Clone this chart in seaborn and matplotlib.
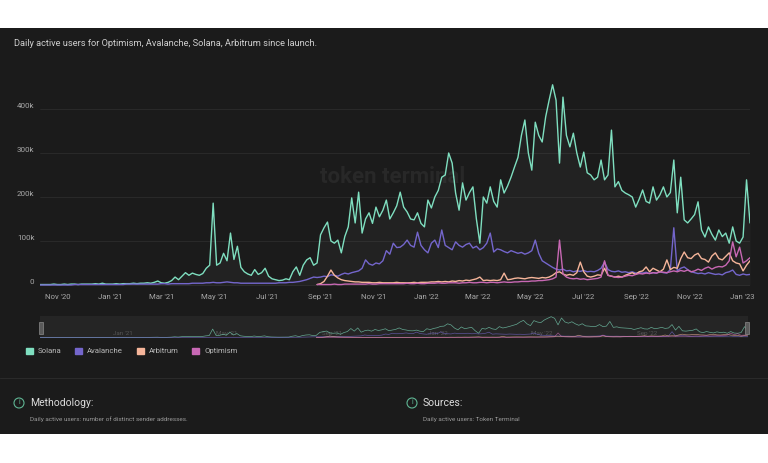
import pandas as pd
import matplotlib
matplotlib.use("Agg")
import matplotlib.pyplot as plt
import matplotlib.dates as mdates
from matplotlib.patches import Rectangle, Ellipse, Patch
from matplotlib.lines import Line2D
from matplotlib.ticker import FuncFormatter
import seaborn as sns


# DATA - daily active users in thousands, one reading every 4 days
step = "4D"

solana_start = "2020-10-12"
solana_k = [1, 1, 1, 1, 2, 1, 1, 2, 1, 2, 2, 1, 2, 2, 2, 2, 3, 2,
            4, 2, 2, 2, 3, 2, 3, 3, 3, 4, 3, 4,
            4, 5, 4, 6, 9, 5, 4, 6, 10, 18, 12, 20, 28, 22, 27, 24, 22, 26, 38, 45,
            186, 45, 50, 72, 55, 118, 58, 88, 40, 30, 25, 22, 35, 24, 28, 38, 20, 14, 12, 10,
            11, 14, 12, 30, 41, 22, 45, 57, 62, 45, 50, 114, 130, 143, 100, 95, 102, 73, 110, 132,
            198, 141, 211, 118, 150, 164, 140, 177, 155, 170, 193, 150, 164, 180, 211, 177, 166, 150, 148, 164,
            140, 132, 193, 175, 200, 215, 245, 250, 300, 277, 209, 170, 232, 193, 210, 223, 150, 95, 200, 186,
            223, 190, 177, 239, 209, 225, 245, 268, 290, 340, 375, 300, 261, 370, 340, 325, 382, 420, 455, 420,
            277, 427, 340, 314, 345, 300, 268, 302, 255, 250, 239, 245, 284, 239, 250, 352, 223, 235, 215, 209,
            205, 200, 177, 195, 216, 190, 186, 223, 193, 205, 223, 200, 210, 284, 164, 245, 148, 141, 150, 160,
            189, 125, 109, 132, 115, 102, 125, 110, 118, 95, 132, 100, 95, 109, 239, 141]

avalanche_start = "2020-10-12"
avalanche_k = [0, 0, 0, 0, 0, 0, 0, 0, 0, 0, 1, 1, 1, 1, 1, 1, 1, 1,
               1, 1, 1, 1, 1, 1, 1, 2, 2, 2, 2, 2, 2, 2, 2, 2, 2, 3, 3, 2, 3, 3, 3,
               3, 3, 3, 4, 4, 4, 4, 5, 5, 6, 5, 5, 6, 7, 6, 5, 5, 4, 4, 4, 4, 4, 4, 4, 4, 4,
               4, 4, 5, 5, 5, 6, 6, 7, 8,
               10, 12, 15, 18, 17, 18, 20, 19, 23, 22, 20, 24, 27, 25, 28, 30, 32, 38, 57, 48,
               45, 50, 48, 55, 78, 70, 95, 85, 86, 92, 102, 90, 86, 120, 90, 80, 73, 95, 102, 85,
               125, 90, 85, 80, 98, 90, 86, 92, 95, 84, 88, 80, 85, 95, 118, 75, 82, 80, 76, 73,
               78, 75, 72, 74, 70, 73, 78, 102, 72, 55, 50, 45, 40, 36, 34, 36, 32, 33, 30, 32,
               31, 33, 30, 31, 30, 33, 38, 52, 35, 31, 30, 32, 29, 30, 28, 30, 27, 28, 27, 29,
               26, 28, 27, 30, 28, 27, 35, 130, 32, 38, 41, 35, 30, 28, 26, 27, 25, 28, 26, 24,
               25, 23, 28, 30, 34, 24, 22, 25, 23, 24]

arbitrum_start = "2021-08-28"
arbitrum_k = [1, 3, 8, 20, 34, 22, 16, 12, 10, 9, 8, 7, 7,
              6, 6, 6, 5, 5, 6, 5, 5, 5, 5, 6, 5, 5, 5, 5, 6, 5, 6,
              6, 6, 7, 7, 8, 7, 8, 7, 9, 8, 10, 9, 11, 10, 12, 14, 18, 10, 11, 10,
              11, 10, 12, 27, 12, 13, 15, 16, 15, 14, 16, 17, 16, 15, 17, 16, 18, 22, 28, 30,
              25, 22, 24, 22, 28, 52, 30, 20, 18, 20, 23, 22, 38, 22, 20, 18, 20, 18, 22, 25,
              28, 24, 30, 32, 41, 30, 38, 34, 30, 36, 57, 35, 40, 38, 60, 75, 62, 60, 68, 72,
              60, 58, 52, 66, 73, 60, 57, 65, 73, 55, 50, 48, 32, 45, 55]

optimism_start = "2021-08-28"
optimism_k = [1, 1, 1, 1, 1, 2, 1, 1, 2, 2, 2, 2, 2, 2, 2, 3, 2, 2, 3, 3, 3, 3, 3, 3, 3, 3, 4, 3, 3, 4, 3,
              3, 4, 4, 4, 5, 4, 4, 5, 5, 5, 4, 5, 5, 6, 5, 5, 6, 6, 5, 6, 6, 5, 6, 7, 6, 6, 7, 7, 8, 8,
              8, 9, 9, 10, 10, 11, 12, 14, 18, 102,
              25, 18, 15, 14, 15, 13, 14, 12, 13, 14, 15, 18, 55, 22, 20, 18, 17, 18, 20, 22,
              21, 24, 26, 25, 27, 26, 28, 27, 30, 29, 28, 30, 32, 30, 33, 31, 34, 30, 32, 36,
              33, 38, 41, 36, 40, 42, 41, 45, 55, 98, 64, 86, 50, 55, 62]

series_names = ["Solana", "Avalanche", "Arbitrum", "Optimism"]
series_colors = ["#7fdfc0", "#7466cc", "#f6b59a", "#c868b4"]
y_ticks = [0, 100000, 200000, 300000, 400000]

title = "Daily active users for Optimism, Avalanche, Solana, Arbitrum since launch."


def to_frame(start, values, name):
    return pd.DataFrame({
        "date": pd.date_range(start, periods=len(values), freq=step),
        "users": [v * 1000 for v in values],
        "chain": name,
    })


df = pd.concat([
    to_frame(solana_start, solana_k, "Solana"),
    to_frame(avalanche_start, avalanche_k, "Avalanche"),
    to_frame(arbitrum_start, arbitrum_k, "Arbitrum"),
    to_frame(optimism_start, optimism_k, "Optimism"),
], ignore_index=True)


# Theme
BG = "#1b1b1b"
sns.set_theme(style="dark")
plt.rcParams["font.family"] = ["Roboto", "DejaVu Sans"]

W, H = 768, 463
fig = plt.figure(figsize=(W / 100, H / 100), dpi=100)
fig.patch.set_facecolor("white")


def fx(px):
    return px / W


def fy(py):
    return 1 - py / H


# dark card behind everything
fig.add_artist(Rectangle((0, fy(434)), 1, fy(28) - fy(434), transform=fig.transFigure,
                         facecolor=BG, edgecolor="none", zorder=-10))

fig.text(fx(14), fy(44), title, color="#cfcfcf", fontsize=6.7, va="center", ha="left")

# watermark
fig.text(fx(393), fy(177), "token terminal", color="#282828", fontsize=16,
         fontweight="bold", ha="center", va="center", zorder=-5)

# main chart
x_min = pd.Timestamp(solana_start)
x_max = pd.Timestamp("2023-01-10")
ax = fig.add_axes([fx(40), fy(286.3), fx(750) - fx(40), fy(78.2) - fy(286.3)])
ax.set_facecolor("none")

sol = df[df["chain"] == "Solana"]
ax.fill_between(sol["date"], sol["users"], color="white", alpha=0.03, lw=0, zorder=1)

for name, color in zip(series_names, series_colors):
    sns.lineplot(x="date", y="users", data=df[df["chain"] == name], color=color,
                 lw=1.0, ax=ax, legend=False, zorder=3)

ax.set_xlim(x_min, x_max)
ax.set_ylim(-3000, 470000)
ax.set_yticks(y_ticks)
ax.yaxis.set_major_formatter(FuncFormatter(lambda v, p: "0" if v == 0 else f"{int(v / 1000)}k"))
for lbl in ax.get_yticklabels():
    lbl.set_va("bottom")
ax.xaxis.set_major_locator(mdates.MonthLocator(bymonth=[1, 3, 5, 7, 9, 11]))
ax.xaxis.set_major_formatter(mdates.DateFormatter("%b '%y"))

ax.grid(axis="y", color="#2c2c2c", lw=0.6)
ax.grid(axis="x", visible=False)
ax.tick_params(axis="y", length=0, pad=4, labelsize=5.8, labelcolor="#a8a8a8")
ax.tick_params(axis="x", length=4, width=0.6, color="#555555", pad=1.5,
               labelsize=5.6, labelcolor="#a8a8a8")
for s in ["top", "right", "left", "bottom"]:
    ax.spines[s].set_visible(False)
ax.set_xlabel("")
ax.set_ylabel("")

# navigator
nav = fig.add_axes([fx(40), fy(338), fx(748) - fx(40), fy(316) - fy(338)])
nav.set_facecolor("#252525")
for name, color in zip(series_names, series_colors):
    sub = df[df["chain"] == name]
    nav.plot(sub["date"], sub["users"], color=color, lw=0.5, alpha=0.7, zorder=3)
nav.set_xlim(x_min, x_max)
nav.set_ylim(-8000, 470000)
nav.set_xticks([])
nav.set_yticks([])
nav.grid(False)
for s in nav.spines.values():
    s.set_visible(False)
for d in pd.date_range("2021-01-01", "2022-12-31", freq="4MS"):
    nav.text(d + pd.Timedelta(days=3), 0.22, d.strftime("%b '%y"), transform=nav.get_xaxis_transform(),
             color="#555555", fontsize=4.5, ha="left", va="center", zorder=1)
for px in (40, 746):
    fig.add_artist(Rectangle((fx(px - 1), fy(334)), fx(4), fy(322) - fy(334), transform=fig.transFigure,
                             facecolor="#5a5a5a", edgecolor="#8a8a8a", lw=0.5))

# legend
handles = [Patch(facecolor=c, edgecolor=c) for c in series_colors]
fig.legend(handles, series_names, loc="center left", bbox_to_anchor=(fx(22), fy(351)), ncol=4,
           frameon=False, fontsize=5.6, labelcolor="#b8b8b8", handlelength=0.9, handleheight=0.9,
           handletextpad=0.6, columnspacing=1.8, borderpad=0)

# footer
fig.add_artist(Line2D([0, 1], [fy(378), fy(378)], transform=fig.transFigure, color="#2a2a2a", lw=0.8))
for ix, head, body in [(19, "Methodology:", "Daily active users: number of distinct sender addresses."),
                       (412, "Sources:", "Daily active users: Token Terminal")]:
    fig.add_artist(Ellipse((fx(ix), fy(403)), fx(10), 10 / H, transform=fig.transFigure,
                           fill=False, edgecolor="#5fb593", lw=0.8))
    fig.text(fx(ix), fy(403), "i", color="#5fb593", fontsize=5, ha="center", va="center")
    fig.text(fx(ix + 11), fy(403), head, color="#dddddd", fontsize=7.5, ha="left", va="center")
    fig.text(fx(ix + 11), fy(419), body, color="#9a9a9a", fontsize=4.6, ha="left", va="center")

fig.savefig("out.png", dpi=100, facecolor=fig.get_facecolor())
